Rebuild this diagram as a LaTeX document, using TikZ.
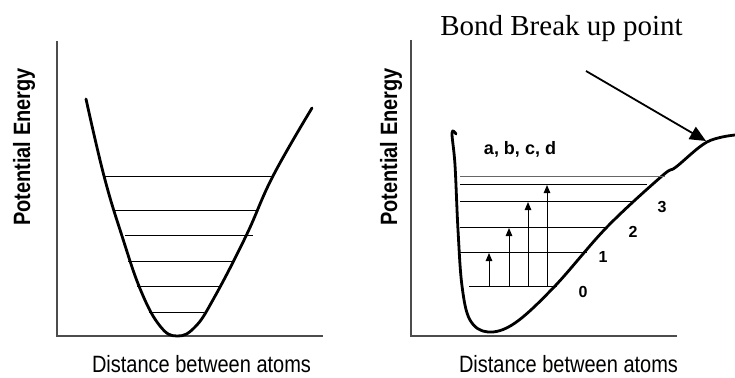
\documentclass[tikz,border=0pt]{standalone}
\usepackage{fontspec}
\setmainfont{Liberation Serif}
\setsansfont{Liberation Sans}
\usetikzlibrary{arrows.meta}
\newcommand{\tallbox}[1]{\scalebox{1}[1.18]{#1}}
\begin{document}
\begin{tikzpicture}[x=1pt,y=-1pt,
  curve/.style={line width=2.8pt, line join=round, line cap=round},
  axis/.style={line width=1.2pt, draw=black!70},
  level/.style={line width=1pt},
  toplevel/.style={line width=1pt, draw=black!60},
  ylab/.style={font=\sffamily\bfseries\fontsize{20}{24}\selectfont, rotate=90, anchor=base, inner sep=0pt},
  xlab/.style={font=\sffamily\fontsize{20}{24}\selectfont, anchor=base, inner sep=0pt},
  num/.style={font=\sffamily\bfseries\fontsize{16}{18}\selectfont, anchor=base, inner sep=0pt},
  uparrow/.style={line width=1pt, -{Triangle[length=8pt,width=6.5pt]}},
  bigarrow/.style={line width=1.8pt, -{Triangle[length=16pt,width=14pt]}},
]
\useasboundingbox (0,0) rectangle (735,377);

% ---------- left panel ----------
\draw[axis] (57,41) -- (57,336) -- (323,336);
\draw[curve] plot[smooth, tension=0.7] coordinates {(86,99) (104,176) (122,236) (141,291) (160,326) (177,336) (195,327) (214,298) (246,236) (273,176) (312,108)};
\draw[level] (105,176) -- (273,176);
\draw[level] (115,210) -- (258,210);
\draw[level] (125,235) -- (253,235);
\draw[level] (128,261) -- (233,261);
\draw[level] (137,286) -- (220,286);
\draw[level] (149,312) -- (204,312);
\node[ylab] (lpe) at (30,147) {\tallbox{Potential Energy}};
\node[xlab] (ldist) at (201.5,372) {\tallbox{Distance between atoms}};

% ---------- right panel ----------
\draw[axis] (411,40) -- (411,336) -- (677,336);
\draw[curve] plot[smooth, tension=0.6] coordinates {(456,134) (452,133) (455,165) (458,230) (462,286) (470,320) (488,332) (515,323) (555,286) (607,227) (662,176) (676,167) (707,142) (735,135)};
\draw[toplevel] (460,176) -- (665,176);
\draw[level] (460,184) -- (647,184);
\draw[level] (460,201) -- (635,201);
\draw[level] (460,227) -- (607,227);
\draw[level] (460,252) -- (587,252);
\draw[level] (469,286) -- (557,286);

\coordinate (a0) at (489,286); \coordinate (a1) at (489,253);
\coordinate (b0) at (509,286); \coordinate (b1) at (509,228);
\coordinate (c0) at (528,286); \coordinate (c1) at (528,202);
\coordinate (d0) at (547,286); \coordinate (d1) at (547,185);
\draw[uparrow] (a0) -- (a1);
\draw[uparrow] (b0) -- (b1);
\draw[uparrow] (c0) -- (c1);
\draw[uparrow] (d0) -- (d1);

\node[num, font=\sffamily\bfseries\fontsize{18}{20}\selectfont] (abcd) at (520,154) {a, b, c, d};
\node[num] (n0) at (583,297) {0};
\node[num] (n1) at (603,262) {1};
\node[num] (n2) at (633,237) {2};
\node[num] (n3) at (662,212) {3};

\node[font=\fontsize{29}{34}\selectfont, anchor=base, inner sep=0pt] (bond) at (561.5,36) {Bond Break up point};
\coordinate (bstart) at (586,71);
\coordinate (bend) at (706,141);
\draw[bigarrow] (bstart) -- (bend);

\node[ylab] (rpe) at (397,147) {\tallbox{Potential Energy}};
\node[xlab] (rdist) at (568.5,372) {\tallbox{Distance between atoms}};
\end{tikzpicture}
\end{document}
